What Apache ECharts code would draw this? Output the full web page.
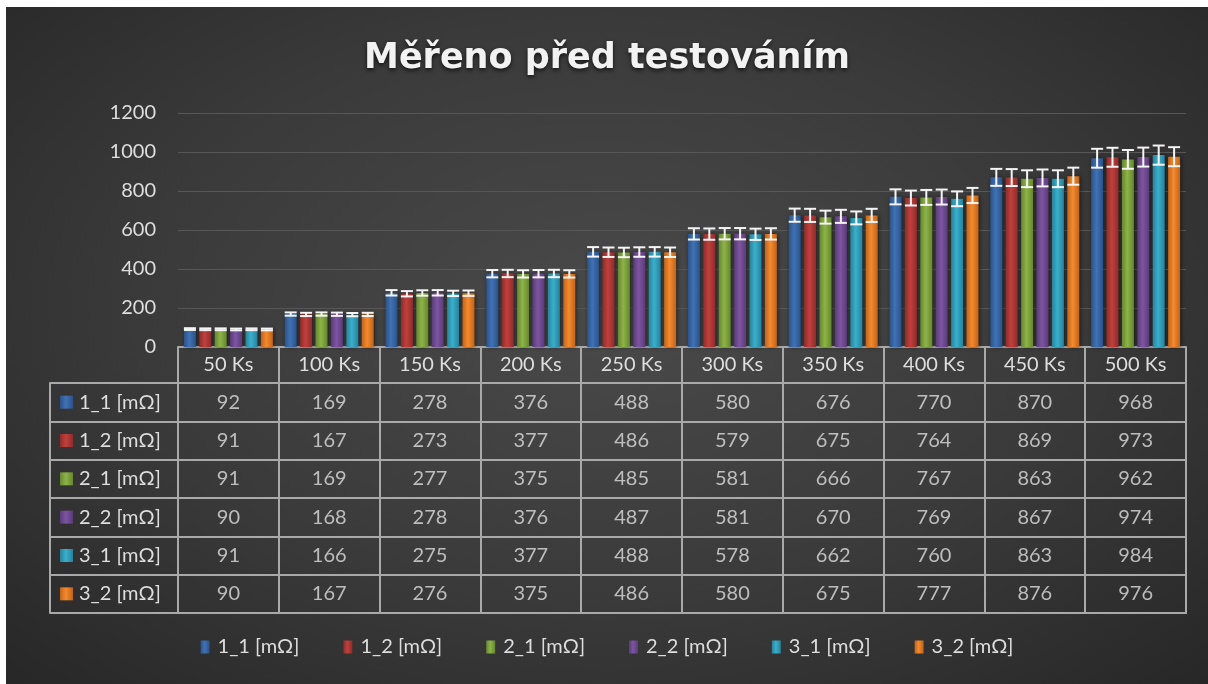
<!DOCTYPE html>
<html>
<head>
<meta charset="utf-8">
<script src="https://cdn.jsdelivr.net/npm/echarts@6/dist/echarts.min.js"></script>
<style>
  html, body { margin: 0; padding: 0; background: #fff; }
  #chart {
    position: absolute; left: 6px; top: 7px; width: 1202px; height: 677px;
    background: radial-gradient(ellipse at 50% 45%, #4a4a4a 0%, #3a3a3a 55%, #272727 100%);
  }
</style>
</head>
<body>
<div id="chart"></div>
<script>
// categories (x axis) and series names
const categories = ['50 Ks', '100 Ks', '150 Ks', '200 Ks', '250 Ks', '300 Ks', '350 Ks', '400 Ks', '450 Ks', '500 Ks']
const seriesNames = ['1_1 [mΩ]', '1_2 [mΩ]', '2_1 [mΩ]', '2_2 [mΩ]', '3_1 [mΩ]', '3_2 [mΩ]']

// measured values
const s11 = [92, 169, 278, 376, 488, 580, 676, 770, 870, 968]
const s12 = [91, 167, 273, 377, 486, 579, 675, 764, 869, 973]
const s21 = [91, 169, 277, 375, 485, 581, 666, 767, 863, 962]
const s22 = [90, 168, 278, 376, 487, 581, 670, 769, 867, 974]
const s31 = [91, 166, 275, 377, 488, 578, 662, 760, 863, 984]
const s32 = [90, 167, 276, 375, 486, 580, 675, 777, 876, 976]
const values = [s11, s12, s21, s22, s31, s32]

// error bars: percentage of value
const errPct = 0.05

const colors = ['#3f72b5', '#c0403d', '#8db447', '#7d55a2', '#3aafcc', '#f58a2e']
const darker = ['#2c5288', '#8f2c2a', '#66862f', '#5a3b78', '#27829a', '#c0641a']

const BAR_W = 12
const BAR_GAP = 3.4
const BORDER = '#a9a9a9'
const TXT = '#dedede'
const FONT = 'Lato'

function barGradient(i) {
  return new echarts.graphic.LinearGradient(0, 0, 1, 0, [
    { offset: 0, color: darker[i] },
    { offset: 0.45, color: colors[i] },
    { offset: 1, color: darker[i] }
  ])
}

const chart = echarts.init(document.getElementById('chart'))

const barSeries = values.map((vals, i) => ({
  name: seriesNames[i],
  type: 'bar',
  xAxisIndex: 0,
  yAxisIndex: 0,
  barWidth: BAR_W,
  barGap: (BAR_GAP / BAR_W * 100) + '%',
  itemStyle: {
    color: barGradient(i),
    shadowColor: 'rgba(0,0,0,0.55)',
    shadowBlur: 4,
    shadowOffsetX: 1
  },
  data: vals
}))

const errSeries = values.map((vals, i) => ({
  name: 'err' + i,
  type: 'custom',
  xAxisIndex: 0,
  yAxisIndex: 0,
  z: 5,
  data: vals.map((v, k) => [k, v]),
  renderItem(params, api) {
    const k = api.value(0)
    const v = api.value(1)
    const off = (i - 2.5) * (BAR_W + BAR_GAP)
    const hi = api.coord([k, v * (1 + errPct)])
    const lo = api.coord([k, v * (1 - errPct)])
    const x = hi[0] + off
    const half = 6
    const style = { stroke: '#f4f4f4', lineWidth: 2 }
    return {
      type: 'group',
      children: [
        { type: 'line', shape: { x1: x, y1: hi[1], x2: x, y2: lo[1] }, style },
        { type: 'line', shape: { x1: x - half, y1: hi[1], x2: x + half, y2: hi[1] }, style },
        { type: 'line', shape: { x1: x - half, y1: lo[1], x2: x + half, y2: lo[1] }, style }
      ]
    }
  }
}))

// table cells
const cellData = []
values.forEach((vals, i) => vals.forEach((v, k) => cellData.push([k, i, v])))

const rich = {}
colors.forEach((c, i) => {
  rich['i' + i] = { width: 13, height: 13, backgroundColor: barGradient(i) }
})
rich.t = { fontSize: 20, color: TXT, fontFamily: FONT, padding: [0, 0, 0, 6] }

chart.setOption({
  textStyle: { fontFamily: FONT },
  title: {
    text: 'Měřeno před testováním',
    left: 'center',
    top: 29,
    textStyle: {
      fontFamily: 'DejaVu Sans',
      fontWeight: 'bold',
      fontSize: 35,
      color: '#f2f2f2',
      textShadowColor: 'rgba(0,0,0,0.7)',
      textShadowBlur: 4,
      textShadowOffsetY: 2
    }
  },
  legend: {
    data: seriesNames,
    bottom: 22,
    left: 'center',
    icon: 'rect',
    itemWidth: 9,
    itemHeight: 13,
    itemGap: 44,
    textStyle: { fontSize: 20, color: TXT, fontFamily: FONT, padding: [0, 0, 0, 3] }
  },
  grid: [
    { left: 172, right: 22, top: 106, height: 234 },
    { left: 172, right: 22, top: 376, height: 230, show: true, borderColor: BORDER, borderWidth: 2 }
  ],
  xAxis: [
    {
      type: 'category',
      gridIndex: 0,
      data: categories,
      axisLine: { show: true, lineStyle: { color: BORDER, width: 2 } },
      axisTick: { show: true, length: 36, lineStyle: { color: BORDER, width: 2 } },
      axisLabel: { fontSize: 20, color: TXT, margin: 8, fontFamily: FONT }
    },
    {
      type: 'category',
      gridIndex: 1,
      data: categories,
      axisLine: { show: false },
      axisTick: { show: false },
      axisLabel: { show: false },
      splitLine: { show: true, lineStyle: { color: BORDER, width: 2 } }
    }
  ],
  yAxis: [
    {
      type: 'value',
      gridIndex: 0,
      min: 0,
      max: 1200,
      interval: 200,
      axisLine: { show: false },
      axisTick: { show: false },
      axisLabel: { fontSize: 20, color: TXT, margin: 22, fontFamily: FONT, formatter: v => String(v) },
      splitLine: { lineStyle: { color: '#575757', width: 1 } }
    },
    {
      type: 'category',
      gridIndex: 1,
      inverse: true,
      data: seriesNames,
      axisLine: { show: true, lineStyle: { color: BORDER, width: 2 } },
      axisTick: { show: true, length: 128, lineStyle: { color: BORDER, width: 2 } },
      axisLabel: {
        align: 'left',
        margin: 118,
        formatter: (val, idx) => '{i' + idx + '|}{t|' + val + '}',
        rich
      },
      splitLine: { show: true, lineStyle: { color: BORDER, width: 2 } }
    },
    {
      type: 'category',
      gridIndex: 1,
      inverse: true,
      position: 'left',
      offset: 128,
      data: seriesNames,
      axisLine: { show: true, lineStyle: { color: BORDER, width: 2 } },
      axisTick: { show: false },
      axisLabel: { show: false }
    }
  ],
  series: [
    ...barSeries,
    ...errSeries,
    {
      name: 'table',
      type: 'scatter',
      xAxisIndex: 1,
      yAxisIndex: 1,
      symbolSize: 0,
      silent: true,
      data: cellData,
      label: {
        show: true,
        position: 'inside',
        formatter: p => String(p.value[2]),
        fontSize: 20,
        color: TXT,
        fontFamily: FONT
      }
    }
  ]
})
</script>
</body>
</html>
